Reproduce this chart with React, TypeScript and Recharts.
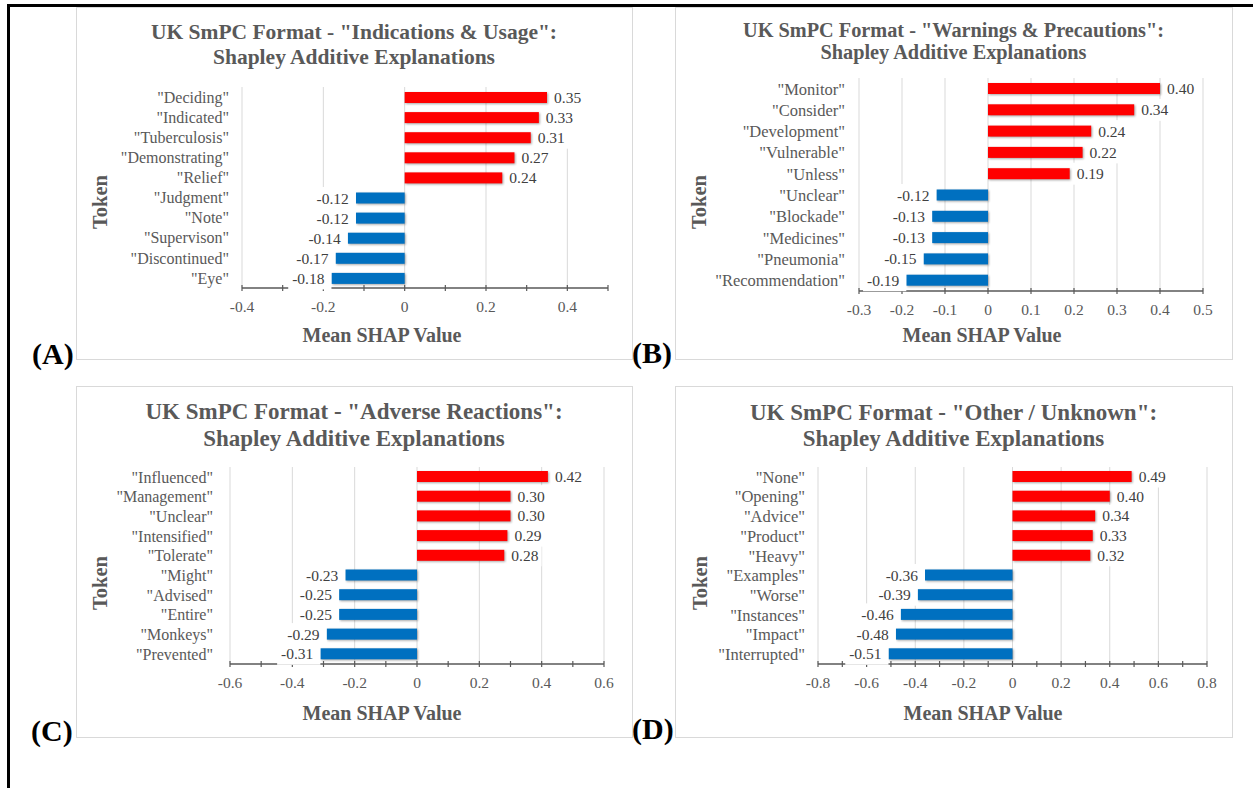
import React from 'react'
import { BarChart, Bar, XAxis, YAxis, CartesianGrid, Cell, LabelList } from 'recharts'

const FONT = '"Liberation Serif", "Times New Roman", serif'
const GRAY = '#595959'
const RED = '#ff0000'
const BLUE = '#0070c0'

// (A) Indications & Usage
const tokensA = ['"Deciding"', '"Indicated"', '"Tuberculosis"', '"Demonstrating"', '"Relief"', '"Judgment"', '"Note"', '"Supervison"', '"Discontinued"', '"Eye"']
const valuesA = [0.35, 0.33, 0.31, 0.27, 0.24, -0.12, -0.12, -0.14, -0.17, -0.18]
const ticksA = [-0.4, -0.3, -0.2, -0.1, 0, 0.1, 0.2, 0.3, 0.4, 0.5]
const tickLabelsA = [-0.4, -0.2, 0, 0.2, 0.4]

// (B) Warnings & Precautions
const tokensB = ['"Monitor"', '"Consider"', '"Development"', '"Vulnerable"', '"Unless"', '"Unclear"', '"Blockade"', '"Medicines"', '"Pneumonia"', '"Recommendation"']
const valuesB = [0.40, 0.34, 0.24, 0.22, 0.19, -0.12, -0.13, -0.13, -0.15, -0.19]
const ticksB = [-0.3, -0.2, -0.1, 0, 0.1, 0.2, 0.3, 0.4, 0.5]
const tickLabelsB = [-0.3, -0.2, -0.1, 0, 0.1, 0.2, 0.3, 0.4, 0.5]

// (C) Adverse Reactions
const tokensC = ['"Influenced"', '"Management"', '"Unclear"', '"Intensified"', '"Tolerate"', '"Might"', '"Advised"', '"Entire"', '"Monkeys"', '"Prevented"']
const valuesC = [0.42, 0.30, 0.30, 0.29, 0.28, -0.23, -0.25, -0.25, -0.29, -0.31]
const ticksC = [-0.6, -0.5, -0.4, -0.3, -0.2, -0.1, 0, 0.1, 0.2, 0.3, 0.4, 0.5, 0.6]
const tickLabelsC = [-0.6, -0.4, -0.2, 0, 0.2, 0.4, 0.6]

// (D) Other / Unknown
const tokensD = ['"None"', '"Opening"', '"Advice"', '"Product"', '"Heavy"', '"Examples"', '"Worse"', '"Instances"', '"Impact"', '"Interrupted"']
const valuesD = [0.49, 0.40, 0.34, 0.33, 0.32, -0.36, -0.39, -0.46, -0.48, -0.51]
const ticksD = [-0.8, -0.7, -0.6, -0.5, -0.4, -0.3, -0.2, -0.1, 0, 0.1, 0.2, 0.3, 0.4, 0.5, 0.6, 0.7, 0.8]
const tickLabelsD = [-0.8, -0.6, -0.4, -0.2, 0, 0.2, 0.4, 0.6, 0.8]

const charW = (s: string) =>
  s.split('').reduce((w, c) => w + (c === '.' ? 3.75 : c === '-' ? 5 : 7.5), 0)

const XTick = (props: any) => {
  const { x, y, payload, labels } = props
  const v = payload.value
  const major = labels.some((l: number) => Math.abs(l - v) < 1e-9)
  return (
    <g>
      <line x1={x} x2={x} y1={y - 3} y2={y + 3} stroke={GRAY} strokeWidth={1.2} />
      {major && (
        <text x={x} y={y + 18} textAnchor="middle" dominantBaseline="central"
          fill={GRAY} fontSize={15.5} fontFamily={FONT}>
          {String(Math.round(v * 10) / 10)}
        </text>
      )}
    </g>
  )
}

const BarShape = (props: any) => {
  const { x, y, width, height, fill } = props
  const left = Math.min(x, x + width)
  return (
    <rect x={left} y={y} width={Math.abs(width)} height={height} fill={fill}
      style={{ filter: 'drop-shadow(1px 1.5px 1px rgba(0,0,0,0.35))' }} />
  )
}

const ValueLabel = (props: any) => {
  const vb = props.viewBox && props.viewBox.width !== undefined ? props.viewBox : props
  const { x, y, width, height } = vb
  const value = Number(props.value)
  const left = Math.min(x, x + width)
  const right = Math.max(x, x + width)
  const cy = y + height / 2
  const txt = value.toFixed(2)
  const tw = charW(txt)
  if (value >= 0) {
    const tx = right + 7
    return (
      <g>
        <rect x={tx - 4} y={cy - 11} width={tw + 8} height={22} fill="#fff" />
        <text x={tx} y={cy} dominantBaseline="central" fill="#404040" fontSize={15.5} fontFamily={FONT}>{txt}</text>
      </g>
    )
  }
  const tx = left - 7
  return (
    <g>
      <rect x={tx - tw - 5} y={cy - 11} width={tw + 12} height={22} fill="#fff" />
      <text x={tx} y={cy} textAnchor="end" dominantBaseline="central" fill="#404040" fontSize={15.5} fontFamily={FONT}>{txt}</text>
    </g>
  )
}

interface PanelProps {
  tokens: string[]
  values: number[]
  ticks: number[]
  tickLabels: number[]
  grid: number[]
  box: { x: number, y: number, w: number, h: number }
  plot: { l: number, t: number, r: number, b: number }
  gap: number
  catSize: number
}

const Panel = ({ tokens, values, ticks, tickLabels, grid, box, plot, gap, catSize }: PanelProps) => {
  const data = tokens.map((t, i) => ({ token: t, value: values[i] }))
  return (
    <div style={{ position: 'absolute', left: box.x, top: box.y }}>
      <BarChart
        width={box.w}
        height={box.h}
        data={data}
        layout="vertical"
        margin={{ top: plot.t - box.y, right: box.x + box.w - plot.r, left: 0, bottom: box.y + box.h - plot.b - 30 }}
      >
        <CartesianGrid horizontal={false} verticalValues={grid} stroke="#d9d9d9" />
        <XAxis
          type="number"
          domain={[ticks[0], ticks[ticks.length - 1]]}
          ticks={ticks}
          interval={0}
          height={30}
          tickSize={0}
          tickMargin={0}
          tickLine={false}
          axisLine={{ stroke: GRAY, strokeWidth: 1.5 }}
          tick={(p: any) => <XTick {...p} labels={tickLabels} />}
        />
        <YAxis
          type="category"
          dataKey="token"
          width={plot.l - box.x}
          interval={0}
          axisLine={false}
          tickLine={false}
          tickSize={0}
          tickMargin={gap}
          tick={{ fill: GRAY, fontSize: catSize, fontFamily: FONT }}
        />
        <Bar dataKey="value" barSize={11} isAnimationActive={false} shape={BarShape}>
          {data.map((d, i) => (
            <Cell key={i} fill={d.value >= 0 ? RED : BLUE} />
          ))}
          <LabelList dataKey="value" content={ValueLabel} />
        </Bar>
      </BarChart>
    </div>
  )
}

interface Deco {
  box: { x: number, y: number, w: number, h: number }
  title: string
  titleSize: number
  titleY: [number, number]
  token: [number, number]
  axisTitle: [number, number]
  letter: string
  letterPos: [number, number]
}

const decos: Deco[] = [
  { box: { x: 76, y: 7, w: 556, h: 352 }, title: 'UK SmPC Format - "Indications & Usage":', titleSize: 21.5, titleY: [32, 57], token: [100, 202], axisTitle: [382, 335], letter: '(A)', letterPos: [32, 353] },
  { box: { x: 675, y: 7, w: 557, h: 352 }, title: 'UK SmPC Format - "Warnings & Precautions":', titleSize: 20.3, titleY: [30, 52], token: [699, 202], axisTitle: [982, 335], letter: '(B)', letterPos: [632, 352] },
  { box: { x: 76, y: 386, w: 556, h: 351 }, title: 'UK SmPC Format - "Adverse Reactions":', titleSize: 23, titleY: [411, 438], token: [100, 583], axisTitle: [382, 713], letter: '(C)', letterPos: [31, 730] },
  { box: { x: 675, y: 386, w: 557, h: 351 }, title: 'UK SmPC Format - "Other / Unknown":', titleSize: 23, titleY: [412, 438], token: [700, 583], axisTitle: [983, 713], letter: '(D)', letterPos: [632, 728] },
]

const App = () => {
  return (
    <div style={{ position: 'absolute', left: 0, top: 0, width: 1253, height: 788, background: '#fff', overflow: 'hidden' }}>
      <svg width={1253} height={788} style={{ position: 'absolute', left: 0, top: 0 }}>
        <rect x={7} y={4} width={1260} height={3} fill="#000" />
        <rect x={7} y={4} width={3} height={800} fill="#000" />
        {decos.map((d, i) => (
          <g key={i} fontFamily={FONT}>
            <rect x={d.box.x + 0.5} y={d.box.y + 0.5} width={d.box.w} height={d.box.h} fill="none" stroke="#d9d9d9" />
            <text x={d.box.x + d.box.w / 2} y={d.titleY[0]} textAnchor="middle" dominantBaseline="central" fontSize={d.titleSize} fontWeight="bold" fill={GRAY}>{d.title}</text>
            <text x={d.box.x + d.box.w / 2} y={d.titleY[1]} textAnchor="middle" dominantBaseline="central" fontSize={d.titleSize} fontWeight="bold" fill={GRAY}>Shapley Additive Explanations</text>
            <text x={d.token[0]} y={d.token[1]} textAnchor="middle" dominantBaseline="central" fontSize={20.5} fontWeight="bold" fill={GRAY}
              transform={`rotate(-90 ${d.token[0]} ${d.token[1]})`}>Token</text>
            <text x={d.axisTitle[0]} y={d.axisTitle[1]} textAnchor="middle" dominantBaseline="central" fontSize={20} fontWeight="bold" fill={GRAY}>Mean SHAP Value</text>
          </g>
        ))}
      </svg>
      <Panel tokens={tokensA} values={valuesA} ticks={ticksA} tickLabels={tickLabelsA} grid={tickLabelsA}
        box={decos[0].box} plot={{ l: 242, t: 87, r: 608, b: 288 }} gap={13} catSize={16} />
      <Panel tokens={tokensB} values={valuesB} ticks={ticksB} tickLabels={tickLabelsB} grid={tickLabelsB}
        box={decos[1].box} plot={{ l: 859, t: 78, r: 1203, b: 291 }} gap={14} catSize={16.5} />
      <Panel tokens={tokensC} values={valuesC} ticks={ticksC} tickLabels={tickLabelsC} grid={tickLabelsC}
        box={decos[2].box} plot={{ l: 230, t: 467, r: 604, b: 664 }} gap={17} catSize={16} />
      <Panel tokens={tokensD} values={valuesD} ticks={ticksD} tickLabels={tickLabelsD} grid={tickLabelsD}
        box={decos[3].box} plot={{ l: 818, t: 467, r: 1207, b: 664 }} gap={13} catSize={16.5} />
      <svg width={1253} height={788} style={{ position: 'absolute', left: 0, top: 0, pointerEvents: 'none' }}>
        {decos.map((d, i) => (
          <text key={i} x={d.letterPos[0]} y={d.letterPos[1]} dominantBaseline="central" fontFamily={FONT}
            fontSize={30} fontWeight="bold" fill="#000">{d.letter}</text>
        ))}
      </svg>
    </div>
  )
}

export default App
